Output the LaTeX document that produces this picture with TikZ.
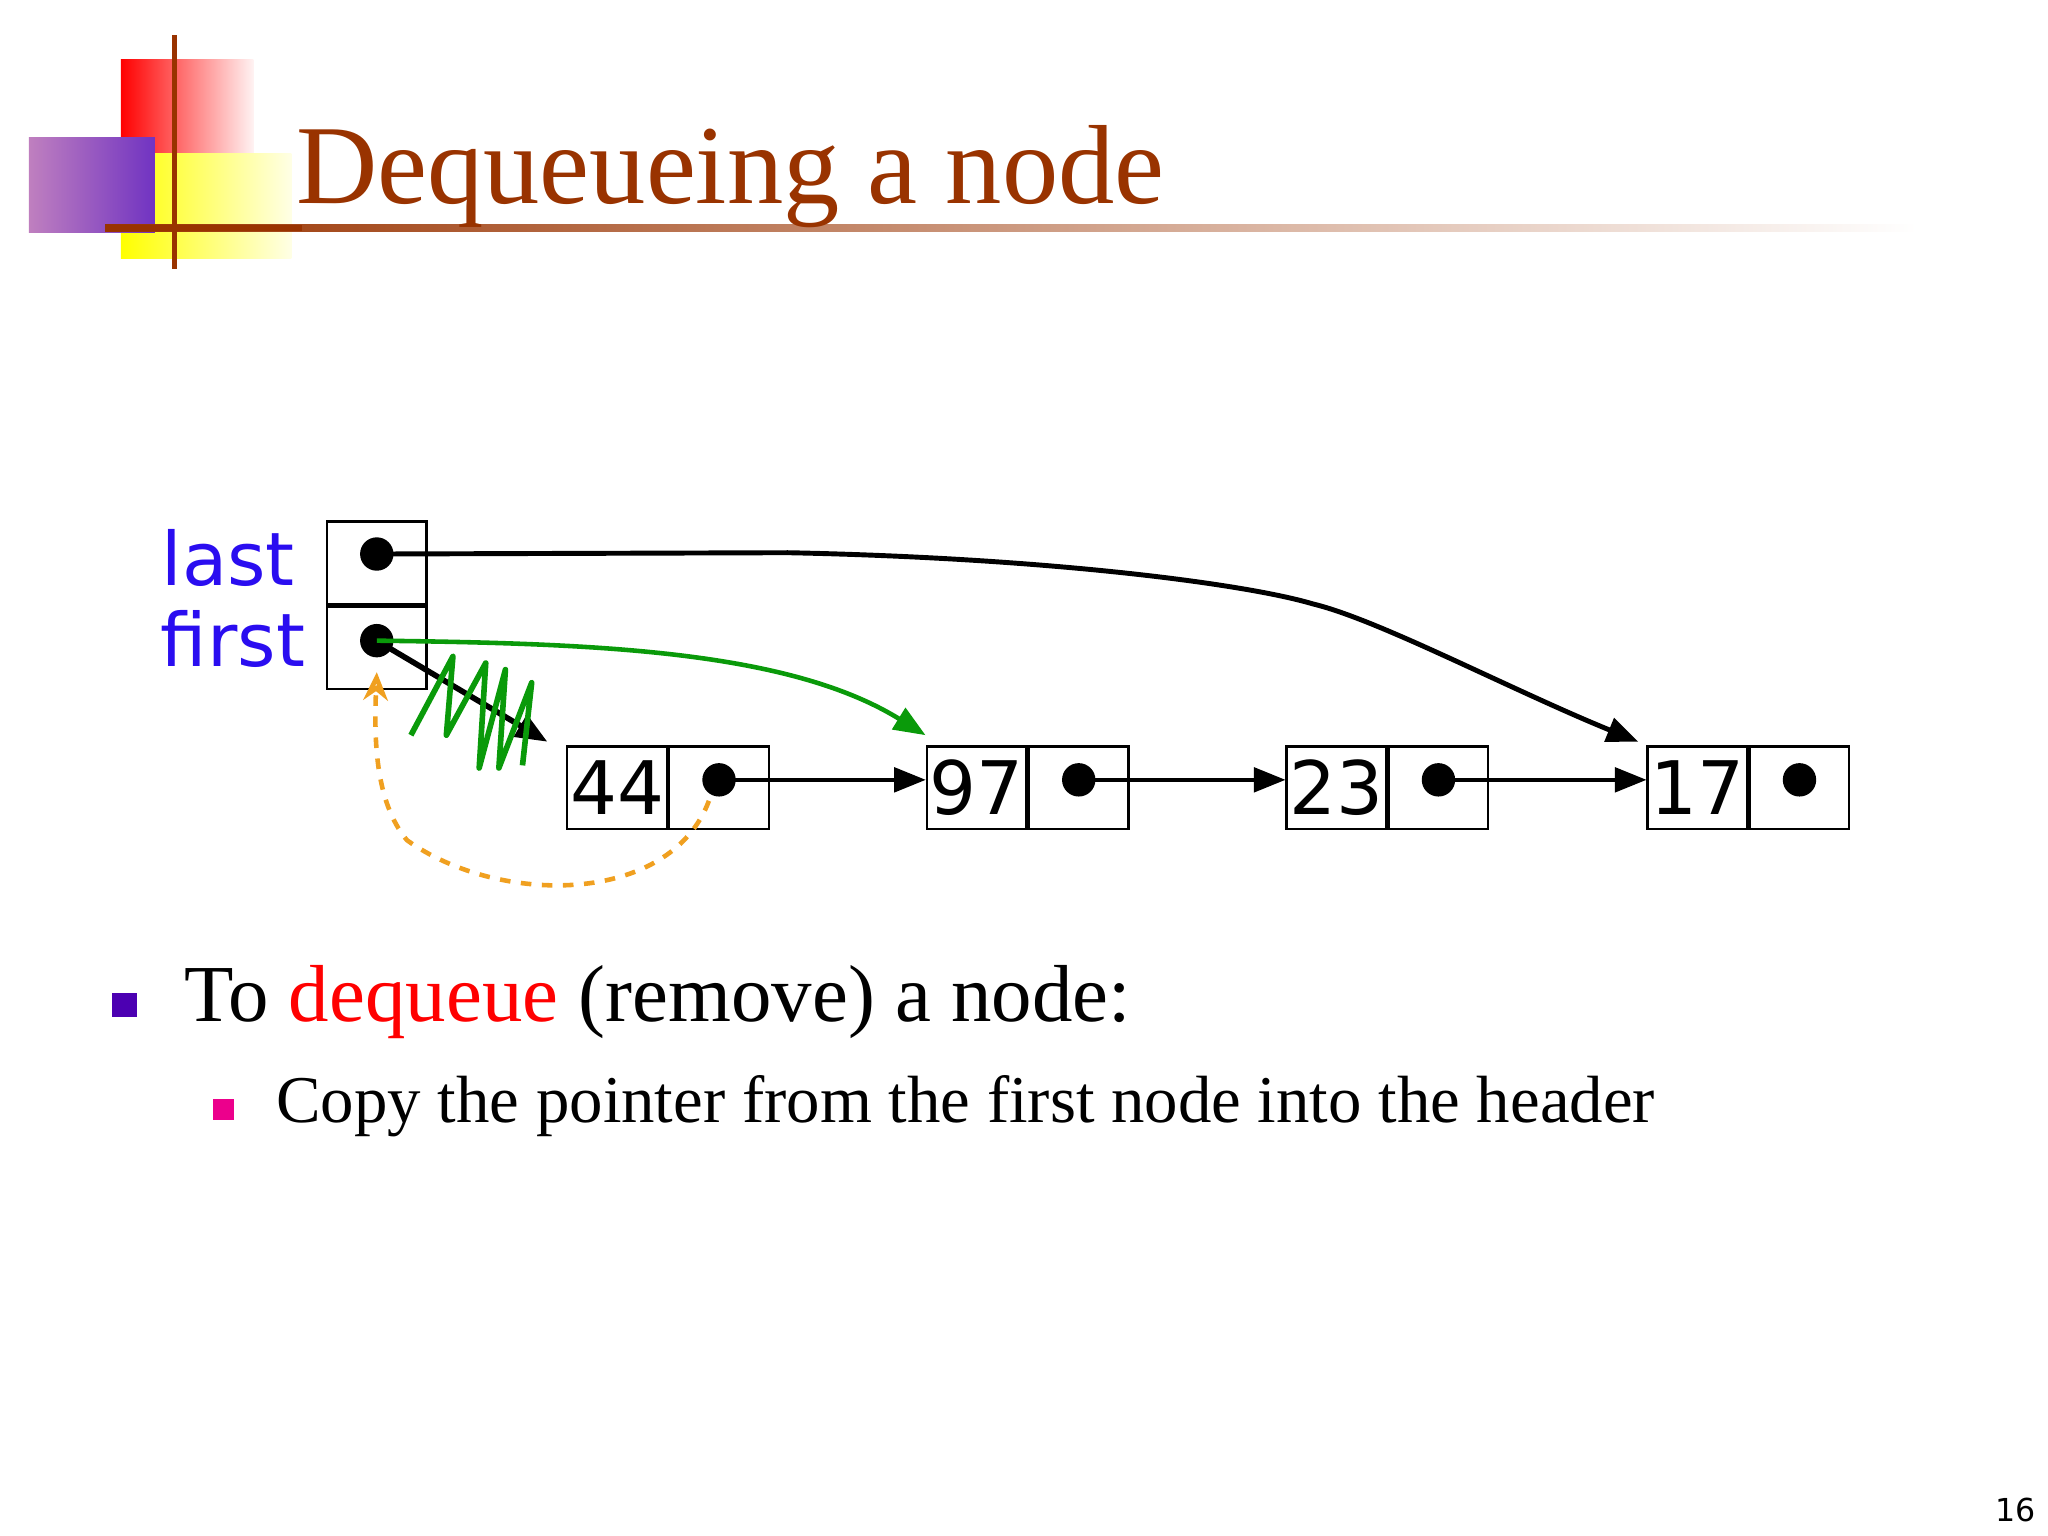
\documentclass[tikz,border=0pt]{standalone}
\usepackage{fontspec}
\setmainfont{Liberation Serif}
\newfontfamily\vsans{DejaVu Sans}
\usetikzlibrary{arrows.meta,decorations.pathmorphing}
\definecolor{ttl}{HTML}{993300}
\definecolor{lblue}{HTML}{2A0DF0}
\definecolor{grn}{HTML}{0A9A0A}
\definecolor{orng}{HTML}{F0A020}
\newlength\pxu \setlength\pxu{0.3725pt}
\tikzset{cell/.style={draw,line width=0.7pt,minimum width=76\pxu,minimum height=63\pxu,inner sep=0pt,font=\vsans\fontsize{21}{21}\selectfont},
 ptr/.style={-{Triangle[length=9pt,width=7pt]},line width=1pt},
 dotc/.style={circle,fill=black,minimum size=9.5pt,inner sep=0pt}}
\begin{document}
\begin{tikzpicture}[x=0.01313cm,y=-0.01313cm]
\useasboundingbox[fill=white] (0,0) rectangle (1560,1170);
% decoration
\shade[left color=red,right color=red!5] (92,45) rectangle (193,145);
\shade[left color=yellow,right color=yellow!10] (92,117) rectangle (222,197);
\shade[left color=violet!50!white,right color=violet!60!blue!80] (22,105) rectangle (118,177);
\shade[left color=ttl,right color=white] (80,171) rectangle (1460,176);
\fill[ttl] (131,27) rectangle (135,205);
\fill[ttl] (80,171) rectangle (230,176);
\node[anchor=base west,text=ttl,font=\fontsize{32}{32}\selectfont,inner sep=0] (title) at (225,155) {Dequeueing a node};
% header
\node[cell] (hl) at (287,428.5) {};
\node[cell] (hf) at (287,493.5) {};
\node[dotc] (dl) at (287,422) {};
\node[dotc] (df) at (287,488) {};
\node[anchor=east,text=lblue,font=\vsans\fontsize{21}{21}\selectfont] (tl) at (234,425) {last};
\node[anchor=east,text=lblue,font=\vsans\fontsize{21}{21}\selectfont] (tf) at (242,487) {first};
% nodes
\foreach \n/\x/\v in {a/470/44,b/744/97,c/1018/23,d/1293/17}{
 \node[cell] (\n v) at (\x,600) {\v};
 \node[cell,anchor=west] (\n p) at (\n v.east) {};
 \node[dotc] (\n d) at ([yshift=6\pxu]\n p.center) {};
}
\draw[ptr] (ad.center) -- (bv.west|-ad);
\draw[ptr] (bd.center) -- (cv.west|-bd);
\draw[ptr] (cd.center) -- (dv.west|-cd);
\draw[ptr,line width=1.4pt] (dl.center) -- (600,421) .. controls (800,425) and (950,445) .. (1000,460) .. controls (1050,472) and (1150,525) .. (1248,565);
\draw[ptr,line width=1.6pt] (df.center) -- (417,565);
\draw[ptr,grn,line width=1.3pt] (df.center) .. controls (450,490) and (600,495) .. (705,560);
\draw[grn,line width=1.6pt,line join=round] (313,560) -- (345,500) -- (340,560) -- (370,505) -- (365,585) -- (385,510) -- (380,585) -- (405,520) -- (398,583);
\draw[orng,dashed,line width=1.3pt,-{Stealth[length=8pt,width=7pt,open]}] (540,610) .. controls (510,690) and (380,690) .. (310,640) .. controls (285,610) and (285,560) .. (287,512);
% text
\fill[violet!60!blue] (85,756) rectangle (104,775);
\node[anchor=base west,inner sep=0,font=\fontsize{23}{23}\selectfont] (t1) at (140,778) {To \textcolor{red}{dequeue} (remove) a node:};
\fill[magenta] (162,837) rectangle (178,853);
\node[anchor=base west,inner sep=0,font=\fontsize{19}{20}\selectfont] (t2) at (210,855) {Copy the pointer from the first node into the header};
\node[font=\vsans\fontsize{9}{9}\selectfont] (pg) at (1535,1150) {16};
\end{tikzpicture}
\end{document}
